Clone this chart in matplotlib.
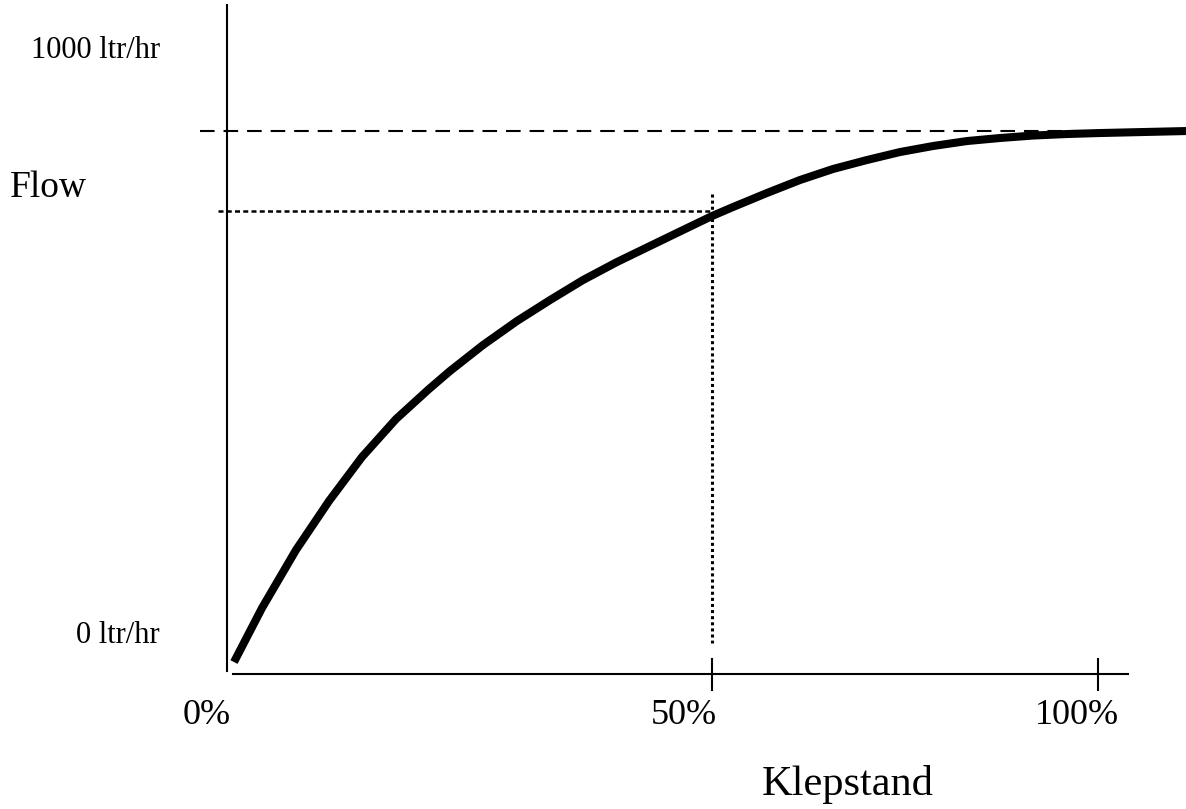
import numpy as np
import matplotlib.pyplot as plt

# klepstand (%) vs flow (ltr/hr)
klep = [-11.92, -8.29, -3.89, 0.39, 4.66, 9.07, 13.34, 16.06, 20.34, 24.74,
        29.02, 33.29, 37.69, 41.97, 46.24, 50.0, 52.72, 57.12, 61.40, 65.67,
        70.08, 74.35, 78.63, 83.03, 87.31, 91.58, 95.98, 100.26, 111.40]
flow = [-46.2, 46.2, 145.3, 229.1, 304.3, 369.2, 420.5, 451.3, 495.7, 536.8,
        572.6, 606.8, 637.6, 665.0, 692.3, 716.2, 731.6, 755.6, 777.8, 796.6,
        812.0, 825.6, 835.9, 844.4, 849.6, 853.8, 856.4, 858.1, 861.5]

tick_pos = [50, 100]
tick_labels = ['0%', '50%', '100%']
tick_label_x = [-15.4, 46.3, 97.3]
max_flow = 862     # dashed line
half_flow = 725    # dotted line at 50%

plt.rcParams['font.family'] = ['Liberation Serif', 'DejaVu Serif']

fig = plt.figure(figsize=(11.86, 8.09), dpi=100)
ax = fig.add_axes([0, 0, 1, 1])
ax.set_xlim(-42.23, 111.40)
ax.set_ylim(-297.4, 1085.5)
ax.axis('off')

# axes drawn by hand like the sketch
ax.plot([-12.8, -12.8], [-61.5, 1077], color='black', lw=1.5)
ax.plot([-12.0, 103.9], [-66.7, -66.7], color='black', lw=1.5)
for t in tick_pos:
    ax.plot([t, t], [-41, -94], color='black', lw=1.5)

# reference lines
ax.plot([-16.3, 111.4], [max_flow, max_flow], color='black', lw=1.5,
        linestyle=(0, (7, 4.3)))
ax.plot([-14, 50], [half_flow, half_flow], color='black', lw=1.8,
        linestyle=(0, (2, 1.3)))
ax.plot([50, 50], [754, -13.7], color='black', lw=2.2,
        linestyle=(0, (1, 1)))

# curve
ax.plot(klep, flow, color='black', lw=5.8, solid_capstyle='butt',
        solid_joinstyle='round')

# labels
ax.text(-21.5, 1000, '1000 ltr/hr', fontsize=22, ha='right', va='center')
ax.text(-21.5, 0, '0 ltr/hr', fontsize=22, ha='right', va='center')
ax.text(-40.9, 764, 'Flow', fontsize=27, ha='left', va='center')
for lx, lab in zip(tick_label_x, tick_labels):
    ax.text(lx, -137, lab, fontsize=26, ha='center', va='center')
ax.text(67.6, -256, 'Klepstand', fontsize=30.5, ha='center', va='center')

fig.savefig('out.png', dpi=100)
